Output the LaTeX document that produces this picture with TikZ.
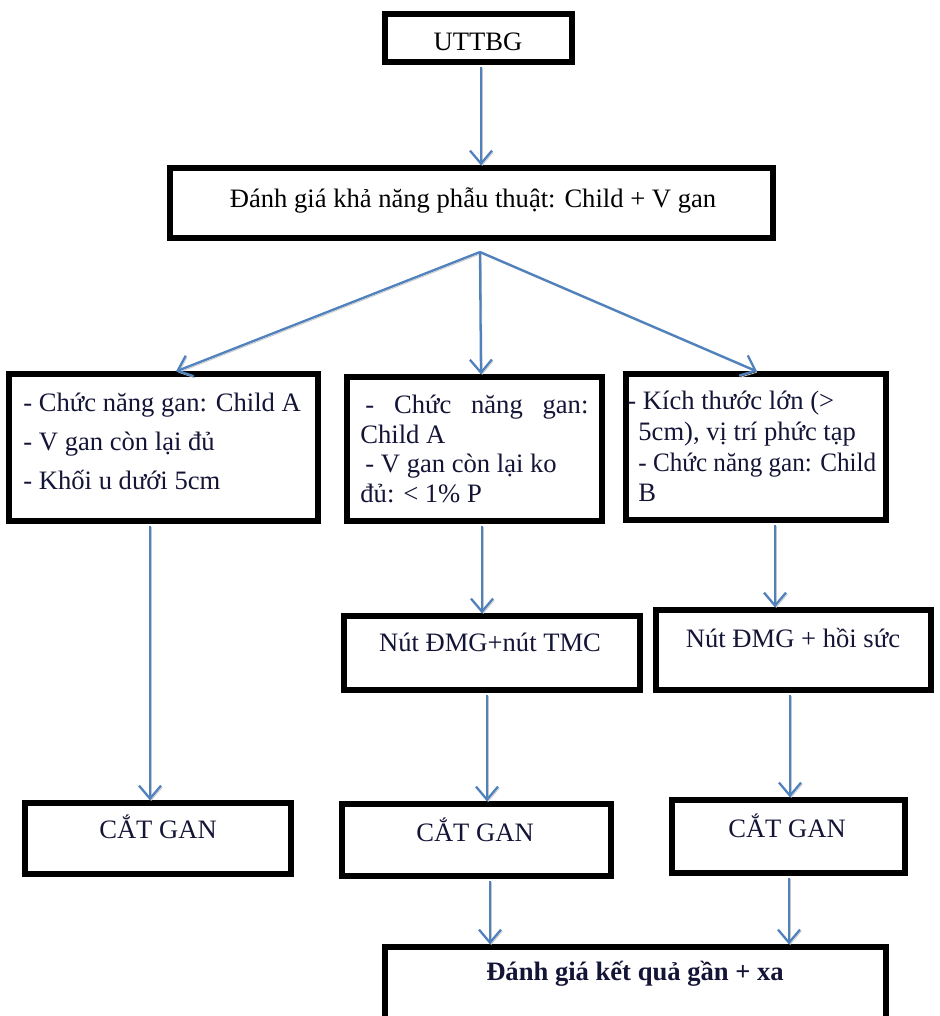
\documentclass[tikz,border=0pt]{standalone}
\usepackage{fontspec}
\setmainfont{Liberation Serif}
\usetikzlibrary{arrows.meta,fit,calc}
\definecolor{arrblue}{HTML}{4F81BD}
\definecolor{navy}{RGB}{20,20,55}
\begin{document}
\begin{tikzpicture}[x=0.5pt,y=-0.5pt,
  box/.style={draw=black, line width=2.6pt, inner sep=0pt, fill=white},
  txt/.style={inner sep=0pt, font=\fontsize{13.3}{16}\selectfont, text=navy},
  btxt/.style={txt, text=black},
  arr/.style={draw=arrblue, line width=1.15pt, shorten <=1pt,
    -{Straight Barb[length=6.5pt,width=11pt]},
    preaction={draw=black!22, transform canvas={shift={(0.6pt,-0.8pt)}}}},
]
\useasboundingbox (0,0) rectangle (939,1016);
% boxes
\node[box, fit={(385,14) (572,62)}] (b1) {};
\node[box, fit={(170,168) (773,238)}] (b2) {};
\node[box, fit={(9,374) (318,521)}] (b3) {};
\node[box, fit={(347,377) (602,521)}] (b4) {};
\node[box, fit={(626,374) (886,520)}] (b5) {};
\node[box, fit={(344,616) (640,690)}] (b6) {};
\node[box, fit={(656,610) (931,690)}] (b7) {};
\node[box, fit={(25,803) (291,874)}] (b8) {};
\node[box, fit={(342,804) (611,876)}] (b9) {};
\node[box, fit={(672,800) (905,873)}] (b10) {};
\node[box, fit={(385,947) (886,1040)}] (b11) {};
% texts
\node[btxt, anchor=base] (t1) at (478,51) {UTTBG};
\node[btxt, anchor=base] (t2) at (473,207) {Đánh giá khả năng phẫu thuật: Child + V gan};
\node[txt, anchor=base west] (t3a) at (23,411) {- Chức năng gan: Child A};
\node[txt, anchor=base west] (t3b) at (23,450) {- V gan còn lại đủ};
\node[txt, anchor=base west] (t3c) at (23,489) {- Khối u dưới 5cm};
\node[txt, anchor=base west] (t4a) at (365,413) {\makebox[111.5pt][s]{- Chức năng gan:}};
\node[txt, anchor=base west] (t4b) at (360,443) {Child A};
\node[txt, anchor=base west] (t4c) at (365,472) {- V gan còn lại ko};
\node[txt, anchor=base west] (t4d) at (360,502) {đủ: < 1\% P};
\node[txt, anchor=base west] (t5a) at (627,409) {- Kích thước lớn (>};
\node[txt, anchor=base west] (t5b) at (638,440) {5cm), vị trí phức tạp};
\node[txt, anchor=base west] (t5c) at (638,471) {\scalebox{0.945}[1]{- Chức năng gan: Child}};
\node[txt, anchor=base west] (t5d) at (638,501) {B};
\node[txt, anchor=base] (t6) at (490,651) {Nút ĐMG+nút TMC};
\node[txt, anchor=base] (t7) at (793,647) {Nút ĐMG + hồi sức};
\node[txt, anchor=base] (t8) at (158,838) {CẮT GAN};
\node[txt, anchor=base] (t9) at (475,841) {CẮT GAN};
\node[txt, anchor=base] (t10) at (787,837) {CẮT GAN};
\node[txt, anchor=base, font=\fontsize{13.3}{16}\selectfont\bfseries] (t11) at (635,980) {Đánh giá kết quả gần + xa};
% connectors
\coordinate (fan) at (480,252);
\draw[arr] (b1.south -| 481,0) -- (b2.north -| 481,0);
\draw[arr, shorten <=0pt] (fan) -- (b3.north -| 176,0);
\draw[arr, shorten <=0pt] (fan) -- (b4.north -| 481,0);
\draw[arr, shorten <=0pt] (fan) -- (b5.north -| 757,0);
\draw[arr] (b3.south -| 150,0) -- (b8.north -| 150,0);
\draw[arr] (b4.south -| 482,0) -- (b6.north -| 482,0);
\draw[arr] (b6.south -| 487,0) -- (b9.north -| 487,0);
\draw[arr] (b5.south -| 775,0) -- (b7.north -| 775,0);
\draw[arr] (b7.south -| 790,0) -- (b10.north -| 790,0);
\draw[arr] (b9.south -| 490,0) -- (b11.north -| 490,0);
\draw[arr] (b10.south -| 789,0) -- (b11.north -| 789,0);
\end{tikzpicture}
\end{document}
